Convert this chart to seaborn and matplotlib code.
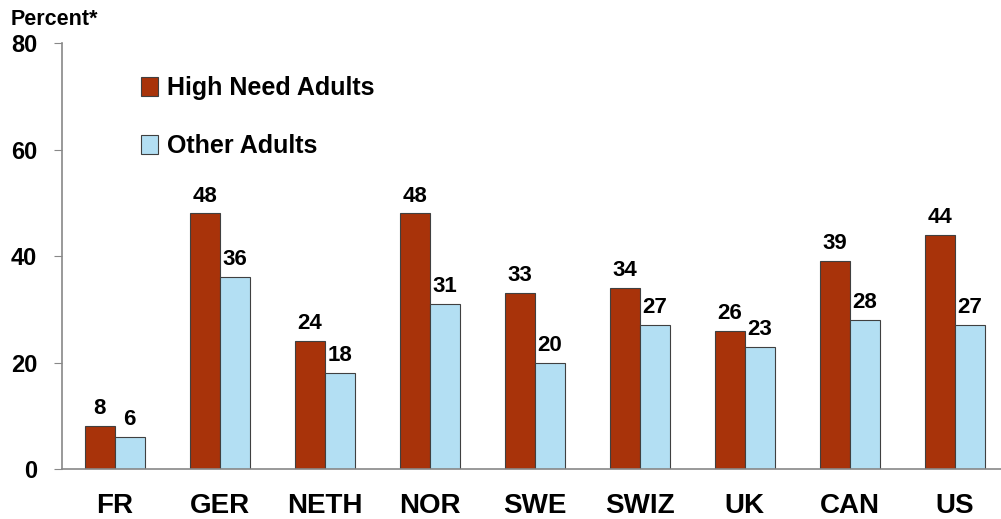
import pandas as pd
import numpy as np
import matplotlib
matplotlib.use('Agg')
import matplotlib.pyplot as plt
import seaborn as sns

countries = ['FR', 'GER', 'NETH', 'NOR', 'SWE', 'SWIZ', 'UK', 'CAN', 'US']
high_need = [8, 48, 24, 48, 33, 34, 26, 39, 44]
other = [6, 36, 18, 31, 20, 27, 23, 28, 27]
series = ['High Need Adults', 'Other Adults']
colors = ['#A8330A', '#B3DFF3']

df = pd.DataFrame({
    'country': countries * 2,
    'group': [series[0]] * len(countries) + [series[1]] * len(countries),
    'value': high_need + other,
})

sns.set_style('white')
plt.rcParams['font.family'] = ['Liberation Sans', 'DejaVu Sans']
plt.rcParams['font.weight'] = 'bold'
plt.rcParams['text.color'] = 'black'
plt.rcParams['xtick.color'] = 'black'
plt.rcParams['ytick.color'] = 'black'

fig = plt.figure(figsize=(10.01, 5.19), dpi=100)
ax = fig.add_axes([0.062, 0.0963, 0.938, 0.8207])

sns.barplot(data=df, x='country', y='value', hue='group', palette=colors,
            saturation=1, width=0.57, edgecolor='#404040', linewidth=0.8, ax=ax)

for cont in ax.containers:
    ax.bar_label(cont, fmt='%d', padding=5, fontsize=16, fontweight='bold',
                 color='black')

ax.set_ylim(0, 80)
ax.set_yticks([0, 20, 40, 60, 80])
ax.set_xlim(-0.5, 8.44)
ax.set_xlabel('')
ax.set_ylabel('')
for s in ['top', 'right']:
    ax.spines[s].set_visible(False)
for s in ['left', 'bottom']:
    ax.spines[s].set_color('#888888')
    ax.spines[s].set_linewidth(1.2)
ax.tick_params(axis='y', left=True, length=6, color='#888888', labelsize=17,
               labelcolor='black', pad=12)
ax.tick_params(axis='x', bottom=False, labelsize=20, labelcolor='black', pad=14)
for t in ax.get_xticklabels() + ax.get_yticklabels():
    t.set_fontweight('bold')

ax.text(-0.055, 1.03, 'Percent*', transform=ax.transAxes, fontsize=15.5,
        fontweight='bold', ha='left', va='bottom')

leg = ax.legend(loc='upper left', bbox_to_anchor=(0.06, 0.975), frameon=False,
                fontsize=18, labelspacing=1.35, handlelength=0.7, handleheight=0.8,
                handletextpad=0.35)
for t in leg.get_texts():
    t.set_fontweight('bold')

fig.savefig('out.png', dpi=100)
